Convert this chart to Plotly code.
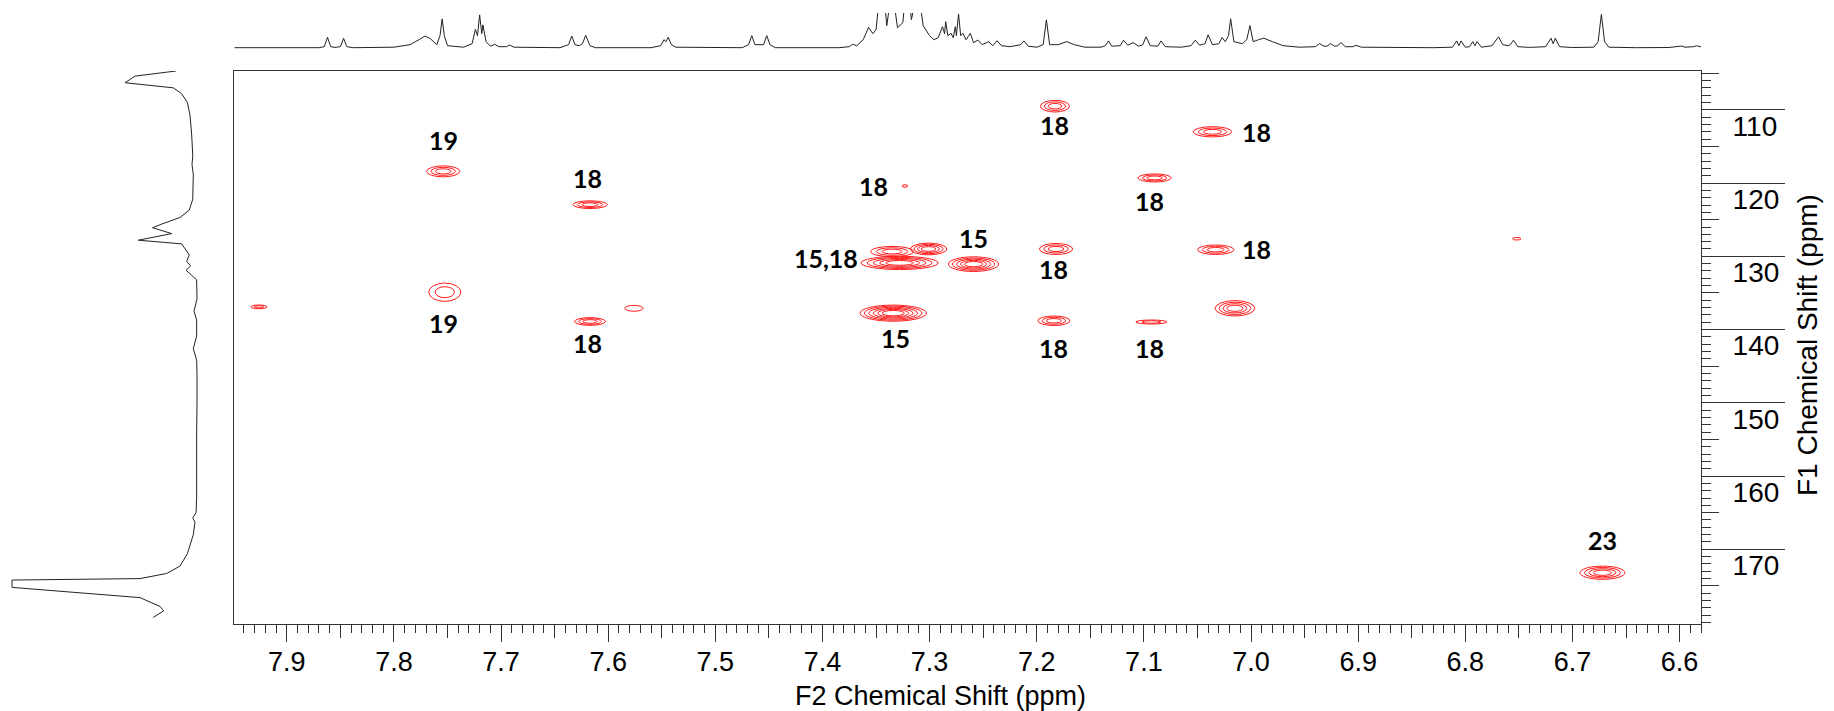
import plotly.graph_objects as go

# ---------------- data ----------------
# 1D proton spectrum on top (ppm, height in px-units above baseline; clipped peaks > range)
top_ppm = [7.949, 7.870, 7.865, 7.862, 7.859, 7.855, 7.850, 7.847, 7.844, 7.838,
           7.800, 7.785, 7.775, 7.771, 7.766, 7.760, 7.757, 7.755, 7.753, 7.750,
           7.735, 7.727, 7.724, 7.722, 7.720, 7.718, 7.717, 7.714, 7.710, 7.706,
           7.702, 7.695, 7.692, 7.688, 7.645, 7.637, 7.634, 7.631, 7.627, 7.624,
           7.621, 7.617, 7.612, 7.560, 7.551, 7.548, 7.546, 7.544, 7.541, 7.537,
           7.475, 7.469, 7.466, 7.463, 7.455, 7.452, 7.449, 7.444, 7.385, 7.375,
           7.372, 7.368, 7.362, 7.357, 7.353, 7.350, 7.346, 7.343, 7.340, 7.337,
           7.335, 7.330, 7.325, 7.322, 7.320, 7.317, 7.314, 7.311, 7.306, 7.300,
           7.296, 7.292, 7.288, 7.286, 7.285, 7.283, 7.280, 7.278, 7.276, 7.275,
           7.273, 7.271, 7.269, 7.266, 7.262, 7.259, 7.255, 7.251, 7.245, 7.241,
           7.237, 7.233, 7.225, 7.215, 7.212, 7.208, 7.200, 7.194, 7.191, 7.188,
           7.180, 7.172, 7.165, 7.155, 7.140, 7.136, 7.133, 7.130, 7.122, 7.119,
           7.115, 7.110, 7.105, 7.101, 7.098, 7.094, 7.087, 7.084, 7.080, 7.065,
           7.056, 7.052, 7.048, 7.043, 7.040, 7.036, 7.030, 7.027, 7.024, 7.021,
           7.019, 7.016, 7.008, 7.004, 7.001, 6.998, 6.993, 6.988, 6.980, 6.970,
           6.955, 6.940, 6.936, 6.932, 6.929, 6.926, 6.922, 6.919, 6.916, 6.912,
           6.905, 6.902, 6.897, 6.880, 6.830, 6.812, 6.808, 6.806, 6.804, 6.800,
           6.796, 6.793, 6.791, 6.789, 6.785, 6.775, 6.769, 6.765, 6.760, 6.758,
           6.755, 6.751, 6.740, 6.725, 6.720, 6.718, 6.716, 6.712, 6.700, 6.680,
           6.676, 6.673, 6.670, 6.666, 6.640, 6.610, 6.600, 6.598, 6.595, 6.587,
           6.584, 6.580, 6.577]
top_int = [0, 0, 1, 10.4, 1, 0.3, 1, 9.4, 1, 0,
           0.5, 3, 9, 11.7, 9, 3, 12, 28.8, 12, 2,
           0.5, 4, 18.4, 12, 32.8, 14, 22.8, 6, 1.5, 3.4,
           1, 1, 2.7, 0.5, 0, 3, 11.7, 3, 2, 4,
           12.4, 2, 0, 0, 2, 8, 6, 10.4, 3, 0.5,
           0, 3, 12, 3, 3, 12, 3, 0, 0, 1,
           3.4, 2, 8, 20.4, 14, 18, 60, 60, 22, 60,
           60, 20, 25, 60, 60, 28, 60, 60, 22, 12,
           8, 10, 21, 14, 26, 12, 14.4, 10, 21, 12,
           33.8, 12, 14.4, 8, 14.4, 5, 7.7, 3, 6, 2,
           7, 2, 1, 3, 6.8, 1.5, 0.5, 3, 27.9, 3,
           3, 6.1, 3, 0.5, 0.5, 2, 6.8, 1.5, 2, 7.5,
           2.5, 5.1, 1.5, 3, 10.9, 2, 1.5, 6.8, 1, 0.5,
           2, 7.5, 2.5, 4, 12.9, 3, 4, 10.2, 6, 12,
           28.9, 6, 4, 8, 22.1, 6, 8, 9.5, 6, 2,
           0.5, 1, 4.1, 1.5, 1.5, 4.1, 1.5, 2, 5.1, 1,
           1, 2.4, 0.5, 0.2, 0, 0.5, 6.8, 2, 6.8, 0.5,
           1, 6.1, 2, 6.1, 0.5, 2, 10.9, 3, 2, 3,
           7.5, 1, 0.3, 1, 9.5, 4, 9.5, 1, 0.2, 0.5,
           6, 33.3, 6, 0.5, 0, 0.2, 1, 1.7, 0.5, 1,
           2, 0.5, 0]

# F1 projection on the left (ppm, relative intensity)
proj_ppm = [104.7, 105.4, 106.3, 107.0, 107.8, 109.0, 110.7, 113.3, 116.2, 117.5,
            118.8, 120.5, 122.2, 123.7, 124.7, 125.6, 126.1, 126.9, 127.8, 128.3,
            129.8, 130.7, 131.3, 131.9, 133.2, 135.8, 137.5, 138.7, 140.9, 142.6,
            144.2, 145.9, 148.5, 150.2, 154.4, 158.7, 162.9, 165.0, 165.7, 166.3,
            168.0, 170.6, 172.3, 173.3, 174.0, 174.2, 175.2, 176.6, 177.8, 178.4,
            179.3]
proj_int = [0.114, 0.335, 0.389, 0.128, 0.083, 0.052, 0.038, 0.029, 0.023, 0.027,
            0.020, 0.020, 0.023, 0.042, 0.092, 0.191, 0.240, 0.137, 0.317, 0.083,
            0.042, 0.056, 0.034, 0.059, 0.002, 0.0, 0.016, 0.002, 0.002, 0.020,
            0.002, 0.0, 0.002, 0.0, 0.002, 0.0, 0.002, 0.005, 0.023, 0.011,
            0.020, 0.052, 0.092, 0.164, 0.308, 1.0, 1.0, 0.308, 0.20, 0.18,
            0.236]

# cross peaks: centre (F2, F1), full widths (ppm) and number of contour levels
pk_x = [7.754, 7.7525, 7.617, 7.617, 7.576, 7.926, 7.323, 7.183, 7.036, 7.090,
        7.328, 7.335, 7.301, 7.259, 7.334, 7.182, 7.184, 7.093, 7.033, 7.015,
        6.672, 6.752]
pk_y = [118.4, 134.9, 122.95, 138.9, 137.1, 136.9, 120.4, 109.5, 113.0, 119.3,
        130.9, 129.35, 129.0, 131.07, 137.76, 129.0, 138.8, 138.97, 129.1, 137.1,
        173.2, 127.6]
pk_wx = [0.031, 0.030, 0.032, 0.029, 0.017, 0.015, 0.005, 0.027, 0.036, 0.031,
         0.072, 0.040, 0.034, 0.047, 0.062, 0.031, 0.030, 0.029, 0.034, 0.037,
         0.042, 0.008]
pk_wy = [1.5, 2.5, 1.05, 1.05, 0.8, 0.5, 0.35, 1.6, 1.4, 1.1,
         1.8, 1.4, 1.6, 2.0, 2.2, 1.5, 1.3, 0.55, 1.3, 2.1,
         1.8, 0.35]
pk_lv = [3, 2, 3, 3, 1, 2, 1, 3, 3, 3,
         5, 3, 4, 5, 6, 3, 3, 2, 3, 4,
         4, 1]

# assignment labels
lab_text = ["19", "19", "18", "18", "18", "15,18", "15", "15", "18", "18",
            "18", "18", "18", "18", "18", "23"]
lab_x = [7.754, 7.754, 7.619, 7.619, 7.352, 7.397, 7.259, 7.332, 7.183, 7.095,
         7.184, 7.184, 7.095, 6.995, 6.995, 6.672]
lab_y = [114.1, 139.1, 119.3, 141.8, 120.4, 130.25, 127.5, 141.2, 112.1, 122.5,
         131.75, 142.5, 142.5, 129.0, 113.0, 168.7]

x_ticks = [7.9, 7.8, 7.7, 7.6, 7.5, 7.4, 7.3, 7.2, 7.1, 7.0, 6.9, 6.8, 6.7, 6.6]
x_ticktext = ["7.9", "7.8", "7.7", "7.6", "7.5", "7.4", "7.3", "7.2", "7.1", "7.0",
              "6.9", "6.8", "6.7", "6.6"]
x_mid_ticks = [7.85, 7.75, 7.65, 7.55, 7.45, 7.35, 7.25, 7.15, 7.05, 6.95, 6.85, 6.75, 6.65]
y_ticks = [110, 120, 130, 140, 150, 160, 170]
y_mid_ticks = [105, 115, 125, 135, 145, 155, 165, 175]

X_RANGE = [7.949, 6.580]
Y_RANGE = [180.2, 104.7]

# ---------------- figure ----------------
W, H = 1834, 711
ML, MR, MT, MB = 0, 133, 0, 87
PW, PH = W - ML - MR, H - MT - MB
x_dom0 = 234.3 / PW
y_dom1 = 1 - 71 / PH

fig = go.Figure()

fig.add_trace(go.Scatter(x=top_ppm, y=top_int, mode="lines",
                         line=dict(color="#222222", width=1), xaxis="x", yaxis="y2",
                         hoverinfo="skip", showlegend=False))
fig.add_trace(go.Scatter(x=proj_int, y=proj_ppm, mode="lines",
                         line=dict(color="#222222", width=1), xaxis="x3", yaxis="y",
                         hoverinfo="skip", showlegend=False))
# empty traces that carry the overlay tick axes
fig.add_trace(go.Scatter(x=[None], y=[None], xaxis="x", yaxis="y4", showlegend=False))
fig.add_trace(go.Scatter(x=[None], y=[None], xaxis="x5", yaxis="y", showlegend=False))

shapes = []
for cx, cy, wx, wy, nl in zip(pk_x, pk_y, pk_wx, pk_wy, pk_lv):
    for i in range(nl):
        f = 1.0 - i * (0.8 / max(nl, 2))
        shapes.append(dict(type="circle", xref="x", yref="y",
                           x0=cx - wx * f / 2, x1=cx + wx * f / 2,
                           y0=cy - wy * f / 2, y1=cy + wy * f / 2,
                           line=dict(color="#ff1a1a", width=1)))

annotations = []
for t, ax_, ay_ in zip(lab_text, lab_x, lab_y):
    annotations.append(dict(x=ax_, y=ay_, xref="x", yref="y", text="<b>%s</b>" % t,
                            showarrow=False, xanchor="center", yanchor="middle",
                            font=dict(family="Lato, Open Sans, sans-serif", size=25, color="black")))
annotations.append(dict(x=940 / PW, y=1 - 696 / PH, xref="paper", yref="paper",
                        text="F2 Chemical Shift (ppm)", showarrow=False,
                        xanchor="center", yanchor="middle",
                        font=dict(family="Liberation Sans Narrow, Liberation Sans, Arial", size=27, color="black")))
annotations.append(dict(x=1807 / PW, y=1 - 345 / PH, xref="paper", yref="paper",
                        text="F1 Chemical Shift (ppm)", showarrow=False, textangle=-90,
                        xanchor="center", yanchor="middle",
                        font=dict(family="Liberation Sans, Arial", size=28, color="black")))

fig.update_layout(
    width=W, height=H, margin=dict(l=ML, r=MR, t=MT, b=MB),
    paper_bgcolor="white", plot_bgcolor="white",
    showlegend=False, shapes=shapes, annotations=annotations,
    xaxis=dict(domain=[x_dom0, 1], range=X_RANGE, anchor="y",
               tickmode="array", tickvals=x_ticks, ticktext=x_ticktext,
               ticks="outside", ticklen=17, tickwidth=1, tickcolor="#333",
               showline=True, linecolor="#333", linewidth=1, mirror=True,
               showgrid=False, zeroline=False, ticklabelstandoff=-3,
               tickfont=dict(family="Liberation Sans Narrow, Liberation Sans, Arial", size=27, color="black"),
               minor=dict(dtick=0.01, ticks="outside", ticklen=8, tickcolor="#333", showgrid=False)),
    xaxis5=dict(overlaying="x", range=X_RANGE, anchor="y", side="bottom",
                tickmode="array", tickvals=x_mid_ticks, ticks="outside", ticklen=13,
                tickcolor="#333", showticklabels=False, showgrid=False, zeroline=False,
                showline=False),
    yaxis=dict(domain=[0, y_dom1], range=Y_RANGE, anchor="x", side="right",
               tickmode="array", tickvals=y_ticks,
               ticks="outside", ticklen=83, tickwidth=1, tickcolor="#333",
               showline=True, linecolor="#333", linewidth=1, mirror=True,
               showgrid=False, zeroline=False,
               ticklabelstandoff=-58, ticklabelshift=-16,
               tickfont=dict(family="Liberation Sans, Arial", size=28, color="black"),
               minor=dict(dtick=1, ticks="outside", ticklen=9, tickcolor="#333", showgrid=False)),
    yaxis4=dict(overlaying="y", range=Y_RANGE, anchor="x", side="right",
                tickmode="array", tickvals=y_mid_ticks, ticks="outside", ticklen=17,
                tickcolor="#333", showticklabels=False, showgrid=False, zeroline=False,
                showline=False),
    yaxis2=dict(domain=[1 - 62 / PH, 1 - 13 / PH], range=[-14.3, 34.7], anchor="x",
                visible=False),
    xaxis3=dict(domain=[0, x_dom0], range=[1.0649, -0.2016], anchor="y", visible=False),
)

fig.write_html("out.html")
